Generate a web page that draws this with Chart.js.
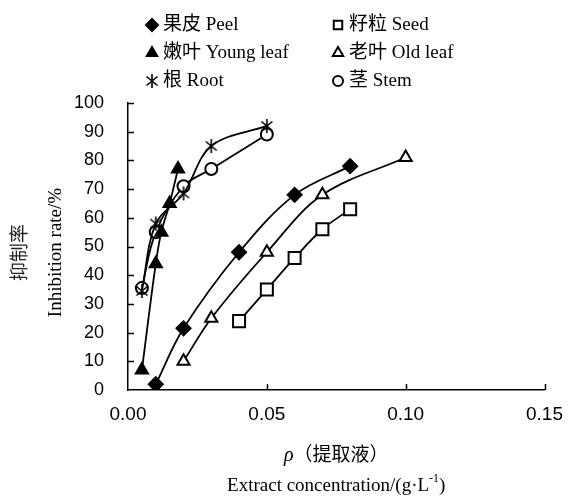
<!DOCTYPE html>
<html>
<head>
<meta charset="utf-8">
<script src="https://cdn.jsdelivr.net/npm/chart.js@4"></script>
<style>
body{margin:0;background:#fff}
</style>
</head>
<body>
<canvas id="myChart" width="576" height="497"></canvas>
<script>
// axis ticks
const xTicks = [0, 0.05, 0.10, 0.15]
const yTicks = [0, 10, 20, 30, 40, 50, 60, 70, 80, 90, 100]

// series
const peelX = [0.01, 0.02, 0.04, 0.06, 0.08]
const peelY = [2, 21.5, 48, 68, 78]
const seedX = [0.04, 0.05, 0.06, 0.07, 0.08]
const seedY = [24, 35, 46, 56, 63]
const youngX = [0.005, 0.01, 0.012, 0.015, 0.018]
const youngY = [7, 44, 55, 65, 77]
const oldX = [0.02, 0.03, 0.05, 0.07, 0.10]
const oldY = [10, 25, 48, 68, 81]
const rootX = [0.005, 0.01, 0.02, 0.03, 0.05]
const rootY = [34.5, 58, 68.5, 85, 92]
const stemX = [0.005, 0.01, 0.02, 0.03, 0.05]
const stemY = [35.5, 55, 71, 77, 89]

const labels = ["果皮 Peel", "籽粒 Seed", "嫩叶 Young leaf", "老叶 Old leaf", "根 Root", "茎 Stem"]

// asterisk marker (X with a vertical bar)
const star = document.createElement('canvas')
star.width = 16; star.height = 16
var sc = star.getContext('2d')
sc.strokeStyle = '#000'; sc.lineWidth = 1.6
sc.beginPath()
sc.moveTo(8, 1); sc.lineTo(8, 15)
sc.moveTo(2.5, 3.5); sc.lineTo(13.5, 12.5)
sc.moveTo(13.5, 3.5); sc.lineTo(2.5, 12.5)
sc.stroke()

function pts(xs, ys){
    return xs.map((x, i) => ({x: x, y: ys[i]}))
}

function series(label, xs, ys, style, radius, fill){
    return {
        label: label,
        data: pts(xs, ys),
        borderColor: '#000',
        borderWidth: 1.8,
        pointStyle: style,
        pointRadius: radius,
        pointBackgroundColor: fill,
        pointBorderColor: '#000',
        pointBorderWidth: 2,
        tension: 0.35,
        fill: false
    }
}

const datasets = [
    series(labels[0], peelX, peelY, 'rectRot', 7, '#000'),
    series(labels[1], seedX, seedY, 'rect', 8.5, '#fff'),
    series(labels[2], youngX, youngY, 'triangle', 7, '#000'),
    series(labels[3], oldX, oldY, 'triangle', 7, '#fff'),
    series(labels[4], rootX, rootY, star, 7, '#000'),
    series(labels[5], stemX, stemY, 'circle', 6, '#fff')
]

const serif = "'Liberation Serif', 'Noto Sans CJK SC', serif"

// draws inside tick marks, the two-column legend and the axis titles
const extras = {
    id: 'extras',
    afterDraw(chart){
        const ctx = chart.ctx
        const xs = chart.scales.x, ys = chart.scales.y
        const a = chart.chartArea
        ctx.save()
        ctx.strokeStyle = '#000'
        ctx.lineWidth = 1.5
        ctx.beginPath()
        yTicks.slice(1).forEach(v => {
            const y = Math.round(ys.getPixelForValue(v)) + 0.5
            ctx.moveTo(a.left, y); ctx.lineTo(a.left + 6, y)
        })
        xTicks.slice(1).forEach(v => {
            const x = Math.round(xs.getPixelForValue(v)) + 0.5
            ctx.moveTo(x, a.bottom); ctx.lineTo(x, a.bottom - 6)
        })
        ctx.stroke()

        // legend
        const colX = [152, 338]
        const rowY = [25, 53, 81]
        ctx.font = '19px ' + serif
        ctx.textBaseline = 'middle'
        ctx.textAlign = 'left'
        chart.data.datasets.forEach((ds, i) => {
            const mx = colX[i % 2], my = rowY[Math.floor(i / 2)]
            ctx.fillStyle = ds.pointBackgroundColor
            ctx.strokeStyle = '#000'
            ctx.lineWidth = 2
            Chart.helpers.drawPoint(ctx, {pointStyle: ds.pointStyle, radius: Math.min(ds.pointRadius, 7) - 1, rotation: 0, borderWidth: 2}, mx, my)
            ctx.fillStyle = '#000'
            ctx.fillText(ds.label, mx + 11, my)
        })

        // y title
        const cy = (a.top + a.bottom) / 2 + 6
        ctx.save()
        ctx.translate(19, cy)
        ctx.rotate(-Math.PI / 2)
        ctx.textAlign = 'center'
        ctx.font = "19px 'Noto Sans CJK SC'"
        ctx.fillStyle = '#222'
        ctx.fillText('抑制率', 0, 0)
        ctx.restore()
        ctx.save()
        ctx.translate(56, cy)
        ctx.rotate(-Math.PI / 2)
        ctx.textAlign = 'center'
        ctx.font = '19px ' + serif
        ctx.fillStyle = '#000'
        ctx.fillText('Inhibition rate/%', 0, 0)
        ctx.restore()

        // x title, line 1
        const cx = (a.left + a.right) / 2
        ctx.fillStyle = '#000'
        ctx.font = 'italic 20px ' + serif
        const rho = 'ρ'
        const w1 = ctx.measureText(rho).width
        ctx.font = '19px ' + serif
        const rest = '（提取液）'
        const w2 = ctx.measureText(rest).width
        let x0 = cx - (w1 + w2) / 2
        ctx.font = 'italic 20px ' + serif
        ctx.fillText(rho, x0, 456)
        ctx.font = '19px ' + serif
        ctx.fillText(rest, x0 + w1, 456)

        // x title, line 2 with superscript
        const p1 = 'Extract concentration/(g·L', sup = '-1', p3 = ')'
        ctx.font = '19px ' + serif
        const q1 = ctx.measureText(p1).width, q3 = ctx.measureText(p3).width
        ctx.font = '12px ' + serif
        const q2 = ctx.measureText(sup).width
        x0 = cx - (q1 + q2 + q3) / 2
        ctx.font = '19px ' + serif
        ctx.fillText(p1, x0, 486)
        ctx.font = '12px ' + serif
        ctx.fillText(sup, x0 + q1, 479)
        ctx.font = '19px ' + serif
        ctx.fillText(p3, x0 + q1 + q2, 486)
        ctx.restore()
    }
}

var ctx = document.getElementById('myChart').getContext('2d')

var myChart = new Chart(ctx, {
    type: 'line',
    data: {datasets: datasets},
    options: {
        responsive: false,
        animation: false,
        layout: {padding: {left: 0, right: 23, top: 103, bottom: 0}},
        plugins: {legend: {display: false}, tooltip: {enabled: false}},
        scales: {
            x: {
                type: 'linear', min: 0, max: 0.15,
                afterBuildTicks: s => { s.ticks = xTicks.map(v => ({value: v})) },
                afterFit: s => { s.height = 107 },
                grid: {display: false, drawTicks: false},
                border: {color: '#000', width: 1.5},
                ticks: {padding: 13, color: '#000', font: {family: 'Liberation Sans', size: 19},
                        callback: v => v.toFixed(2)}
            },
            y: {
                min: 0, max: 100,
                afterBuildTicks: s => { s.ticks = yTicks.map(v => ({value: v})) },
                afterFit: s => { s.width = 128 },
                grid: {display: false, drawTicks: false},
                border: {color: '#000', width: 1.5},
                ticks: {padding: 24, color: '#000', font: {family: 'Liberation Sans', size: 18}}
            }
        }
    },
    plugins: [extras]
})
myChart.update()
</script>
</body>
</html>
